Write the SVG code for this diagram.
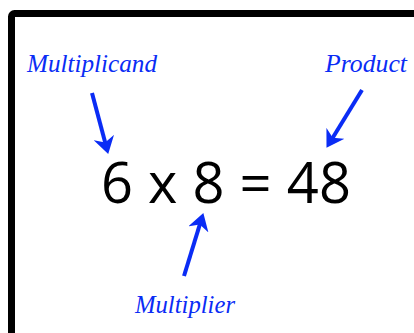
<svg xmlns="http://www.w3.org/2000/svg" width="414" height="333" viewBox="0 0 414 333">
<style>
.lbl{font-family:"Liberation Serif","DejaVu Serif",serif;font-style:italic;font-size:26px;fill:#0a2cf5}
.eq{font-family:"Open Sans","DejaVu Sans",sans-serif;font-size:56px;fill:#000}
.arr{stroke:#0a2cf5;stroke-width:4;fill:none;marker-end:url(#ah)}
</style>
<defs>
<marker id="ah" markerUnits="userSpaceOnUse" markerWidth="17" markerHeight="21" viewBox="0 0 17 21" refX="8" refY="10.5" orient="auto">
<path d="M17,10.5 L0,0 L5,10.5 L0,21 Z" fill="#0a2cf5"/>
</marker>
</defs>
<rect width="414" height="333" fill="#fff"/>
<rect x="11.5" y="13.5" width="420" height="340" rx="3" fill="none" stroke="#000" stroke-width="7"/>
<g id="equation"><text class="eq" x="101" y="203" textLength="250" lengthAdjust="spacing">6 x 8 = 48</text></g>
<g id="multiplicand"><text class="lbl" x="27" y="72" textLength="130" lengthAdjust="spacingAndGlyphs">Multiplicand</text></g>
<g id="product"><text class="lbl" x="325" y="72" textLength="82" lengthAdjust="spacingAndGlyphs">Product</text></g>
<g id="multiplier"><text class="lbl" x="135" y="313" textLength="100" lengthAdjust="spacingAndGlyphs">Multiplier</text></g>
<g id="connectors">
<line class="arr" x1="92" y1="93" x2="105.9" y2="145.3"/>
<line class="arr" x1="362" y1="90" x2="331.2" y2="140.2"/>
<line class="arr" x1="184" y1="276" x2="200.7" y2="221.7"/>
</g>
</svg>
